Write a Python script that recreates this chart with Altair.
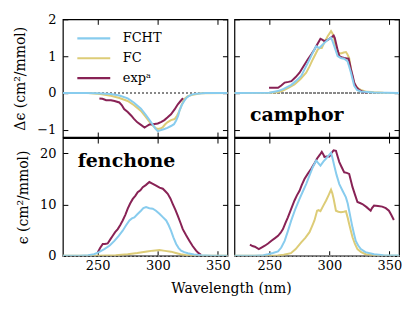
import altair as alt
import pandas as pd

# ---------------- data ----------------
SERIES = ["FCHT", "FC", "expᵃ"]
COLORS = ["#88CCEE", "#DDCC77", "#882255"]

# fenchone CD (top-left)
fcd_fcht_nm = [221, 240, 250, 261, 268, 275, 280, 286, 290, 294.5, 298, 300, 302, 305.5, 308, 311, 313.5, 315.3, 317, 318, 320, 322, 324, 326, 329, 332, 340, 358]
fcd_fcht_v = [0, -0.005, -0.01, -0.03, -0.07, -0.15, -0.26, -0.43, -0.6, -0.8, -0.97, -1.04, -1.02, -0.98, -0.95, -0.9, -0.85, -0.75, -0.62, -0.49, -0.33, -0.22, -0.13, -0.08, -0.04, -0.02, -0.005, 0]
fcd_fc_nm = [221, 242, 252, 261, 268, 275, 280, 286, 290, 294.5, 298, 300, 302, 304, 306, 308, 311, 314, 316, 318, 320, 322, 325, 328, 336, 358]
fcd_fc_v = [0, -0.005, -0.03, -0.08, -0.14, -0.22, -0.33, -0.49, -0.65, -0.85, -0.95, -0.98, -0.97, -0.94, -0.86, -0.8, -0.74, -0.71, -0.62, -0.49, -0.32, -0.17, -0.09, -0.06, -0.01, 0]
fcd_exp_nm = [251.4, 254, 257, 261, 264, 268, 270, 272, 275, 278, 280, 283, 286, 289, 291, 293, 296, 300, 303, 305.5, 308, 311, 314, 316.7, 319, 321]
fcd_exp_v = [-0.15, -0.16, -0.2, -0.2, -0.22, -0.26, -0.33, -0.44, -0.52, -0.62, -0.7, -0.8, -0.87, -0.94, -0.9, -0.86, -0.85, -0.83, -0.79, -0.74, -0.67, -0.58, -0.45, -0.31, -0.22, -0.14]

# camphor CD (top-right)
ccd_fcht_nm = [221, 250, 257.3, 262, 268.4, 272, 276.6, 280, 283.5, 286, 289, 291.7, 293.5, 295.9, 298.5, 301.4, 302.5, 304.1, 306.9, 309.5, 312.4, 315.1, 316.5, 318, 319.5, 320.7, 323, 326, 337, 358]
ccd_fcht_v = [0, 0.005, 0.05, 0.11, 0.22, 0.32, 0.46, 0.68, 0.91, 1.08, 1.27, 1.22, 1.28, 1.36, 1.44, 1.5, 1.42, 1.27, 1.0, 0.95, 0.93, 0.86, 0.72, 0.55, 0.35, 0.19, 0.08, 0.04, 0.01, 0]
ccd_fc_nm = [221, 250, 257, 261, 265.5, 271, 276, 280.7, 283.5, 286.2, 290.4, 292, 293.7, 296, 298.6, 301.4, 302.5, 303.6, 305, 306.9, 309.6, 312, 313.8, 315, 316.5, 318.5, 320, 321.2, 323.5, 326.2, 330, 337, 345, 358]
ccd_fc_v = [0, 0.003, 0.02, 0.06, 0.13, 0.23, 0.38, 0.55, 0.72, 0.91, 1.18, 1.22, 1.22, 1.38, 1.54, 1.68, 1.62, 1.54, 1.3, 1.09, 1.07, 1.1, 1.11, 1.05, 0.95, 0.55, 0.35, 0.23, 0.13, 0.08, 0.04, 0.02, 0.005, 0]
ccd_exp_nm = [249.8, 253, 257.3, 260, 262.8, 266, 268.4, 272, 275.2, 278, 282, 285, 287.6, 290, 292.6, 294, 295.9, 298, 300, 302, 303.6, 304.5, 305.5, 307, 308.3, 310, 312.4, 314, 316, 317, 318, 319.5, 320.7, 322.5, 324.8, 328, 331]
ccd_exp_v = [0.14, 0.14, 0.14, 0.2, 0.28, 0.3, 0.32, 0.43, 0.55, 0.7, 0.91, 1.05, 1.18, 1.32, 1.47, 1.45, 1.41, 1.43, 1.47, 1.52, 1.56, 1.5, 1.36, 1.15, 1.0, 0.97, 0.95, 0.94, 0.93, 0.8, 0.64, 0.45, 0.28, 0.16, 0.08, 0.03, 0.01]

# fenchone absorption (bottom-left)
fab_fcht_nm = [221, 235, 242, 247, 251, 255.5, 260, 263.9, 267.5, 270.8, 273.5, 276.4, 278.5, 280.5, 283, 286, 288, 290.3, 293, 295.8, 298.5, 301.4, 304, 307, 309, 311, 313, 315.3, 317.4, 319.4, 322, 325, 330, 336, 345, 358]
fab_fcht_v = [0, 0.02, 0.1, 0.3, 0.7, 1.3, 2.0, 2.9, 3.9, 4.9, 5.9, 6.9, 7.3, 7.5, 8.1, 8.8, 9.3, 9.5, 9.3, 9.2, 8.8, 8.2, 7.6, 6.9, 6.0, 4.9, 3.6, 2.3, 1.5, 1.0, 0.7, 0.5, 0.25, 0.1, 0.02, 0]
fab_fc_nm = [221, 250, 265, 275, 283, 291, 296, 301.4, 306, 311, 315, 319, 323, 328, 340, 358]
fab_fc_v = [0, 0.02, 0.1, 0.3, 0.55, 0.85, 1.0, 1.1, 0.95, 0.8, 0.55, 0.3, 0.15, 0.05, 0.01, 0]
fab_exp_nm = [250, 252, 254.2, 256, 258.3, 260.5, 262.5, 264.5, 266.7, 268.8, 270.8, 273, 275, 277, 279.2, 281.3, 283.3, 285.5, 287.5, 290, 293, 295.5, 298.6, 301.5, 304.2, 306.3, 308.3, 310.5, 312.5, 314.6, 316.7, 318.8, 320.8, 323.6, 326.4, 329, 331.9, 334, 336]
fab_exp_v = [0.65, 1.5, 2.3, 2.3, 2.4, 3.2, 3.9, 4.6, 5.2, 6.0, 6.9, 8.0, 9.2, 10.2, 11.1, 11.7, 12.4, 12.8, 13.4, 13.8, 14.4, 14.1, 13.7, 13.3, 13.1, 12.6, 12.1, 11.2, 10.1, 9.0, 7.8, 6.5, 5.2, 4.0, 2.9, 1.9, 1.0, 0.5, 0.2]

# camphor absorption (bottom-right)
cab_fcht_nm = [221, 238, 245, 249, 253, 257.3, 260, 262.8, 265.5, 268.3, 271.5, 275.2, 278, 280.7, 283.5, 286.2, 289, 290.8, 292.6, 295, 297.3, 299.5, 301.4, 302.5, 304.1, 306, 308.3, 311, 313.8, 315.3, 316.5, 318, 319.3, 320.7, 322, 324, 326.2, 330, 337.2, 345, 358]
cab_fcht_v = [0, 0.02, 0.12, 0.3, 0.55, 0.85, 1.6, 2.9, 4.8, 6.9, 9.0, 11.1, 12.6, 14.0, 15.7, 17.3, 18.6, 18.1, 17.6, 18.4, 19.0, 19.6, 20.1, 19.2, 17.6, 15.8, 14.0, 12.7, 11.4, 10.2, 8.8, 7.0, 5.5, 4.1, 2.9, 2.0, 1.3, 0.7, 0.3, 0.1, 0.03]
cab_fc_nm = [221, 245, 257, 262, 268, 272, 276.6, 280, 283.5, 286, 287.6, 289.8, 291, 292.6, 295, 297.3, 299.5, 301.4, 302.5, 303.6, 305.5, 307.5, 309.7, 312, 313.8, 315.2, 316.5, 318, 319.3, 321.3, 323.4, 326.5, 330.3, 341, 358]
cab_fc_v = [0, 0.01, 0.05, 0.2, 0.5, 1.3, 2.6, 3.5, 4.6, 6.0, 6.9, 8.8, 8.9, 8.7, 9.8, 10.8, 11.9, 12.9, 12.2, 11.1, 8.8, 8.6, 8.5, 8.6, 8.7, 7.5, 6.2, 4.8, 3.6, 2.3, 1.3, 0.7, 0.3, 0.05, 0]
cab_exp_nm = [233.9, 236, 238, 241.3, 243.5, 246.3, 249, 251.8, 254.5, 257.3, 259.5, 261.4, 263.5, 265.5, 268, 271, 273, 275.2, 277, 279.3, 282, 284.9, 287.5, 289.8, 292, 293.7, 295, 295.9, 298, 300, 301.8, 303.6, 305.5, 306.9, 308.3, 310.3, 312.4, 314.5, 316.5, 318, 319.3, 321.4, 323.4, 325.5, 327.5, 331, 334.4, 335.5, 337.2, 340.5, 344, 347, 349.6, 351.5, 353.7]
cab_exp_v = [2.16, 1.9, 1.76, 1.3, 1.6, 1.96, 2.4, 2.94, 3.4, 3.9, 4.5, 5.2, 6.4, 7.5, 9.0, 10.8, 11.8, 12.7, 13.8, 15.0, 16.0, 17.0, 18.0, 19.0, 19.7, 20.3, 19.8, 19.3, 19.4, 19.4, 20.1, 20.6, 20.5, 19.4, 18.3, 17.3, 16.3, 16.2, 16.0, 14.6, 13.4, 11.9, 10.5, 10.3, 10.1, 9.5, 8.8, 9.3, 9.8, 9.7, 9.6, 9.3, 8.8, 8.0, 7.0]

X_DOMAIN = [221, 358]
X_TICKS = [250, 300, 350]
CD_DOMAIN = [-1.2, 2]
CD_TICKS = [-1, 0, 1, 2]
AB_DOMAIN = [0, 23]
AB_TICKS = [0, 10, 20]

FONT = "DejaVu Serif"
LSZ = 13      # tick labels
TSZ = 14      # axis titles
W, H = 165, 118
TS = 5


def frame(fcht, fc, exp):
    rows = []
    for name, (nm, v) in zip(SERIES, [fcht, fc, exp]):
        for a, b in zip(nm, v):
            rows.append({"nm": a, "val": b, "series": name})
    return pd.DataFrame(rows)


def panel(df, ydom, yticks, xlabels, ylabels, ytitle, xtitle, label, lx, ly, legend):
    xs = alt.Scale(domain=X_DOMAIN, nice=False, zero=False)
    ys = alt.Scale(domain=ydom, nice=False, zero=False)
    cscale = alt.Scale(domain=SERIES, range=COLORS)

    bottom_kw = dict(orient="bottom", values=X_TICKS, tickSize=TS, offset=-TS, domain=False,
                     grid=False, labels=xlabels, labelPadding=4, labelFontSize=LSZ,
                     labelFont=FONT, labelFontWeight="normal", labelColor="black",
                     tickColor="black")
    if xtitle:
        bottom_kw.update(title=xtitle, titleX=W + 3.5, titleY=31, titleBaseline="top",
                         titleFont=FONT, titleFontSize=TSZ, titleFontWeight="normal",
                         titleColor="black")
    else:
        bottom_kw.update(title=None)
    left_kw = dict(orient="left", values=yticks, tickSize=TS, offset=-TS, domain=False,
                   grid=False, labels=ylabels, labelPadding=7, labelFontSize=LSZ,
                   labelFont=FONT, labelFontWeight="normal", labelColor="black",
                   tickColor="black")
    if ytitle:
        left_kw.update(title=ytitle, titleFont=FONT, titleFontSize=TSZ,
                       titleFontWeight="normal", titleColor="black", titlePadding=9)
    else:
        left_kw.update(title=None)

    if legend:
        leg = alt.Legend(orient="none", legendX=24, legendY=12, title=None,
                         symbolType="M-3,0H3", symbolSize=121, symbolStrokeWidth=2.2,
                         labelFont=FONT, labelFontSize=LSZ, labelColor="black",
                         labelFontWeight="normal",
                         labelOffset=22, rowPadding=6, padding=0)
    else:
        leg = None

    zero = alt.Chart(df).mark_rule(strokeDash=[1.5, 2.5], color="#888888", strokeWidth=1.4).encode(
        y=alt.YDatum(0, scale=ys, axis=None))

    layers = [zero]
    first = True
    for name in ["FC", "expᵃ", "FCHT"]:
        sub = df[df["series"] == name]
        enc = dict(
            x=alt.X("nm:Q", scale=xs, axis=alt.Axis(**bottom_kw) if first else None),
            y=alt.Y("val:Q", scale=ys, axis=alt.Axis(**left_kw) if first else None),
            color=alt.Color("series:N", scale=cscale, legend=leg if first else None),
        )
        layers.append(alt.Chart(sub).mark_line(strokeWidth=2, clip=True).encode(**enc))
        first = False

    mirror = alt.Chart(df).mark_line(opacity=0).encode(
        x=alt.X("nm:Q", scale=xs, axis=alt.Axis(orient="top", values=X_TICKS, tickSize=TS,
                                                offset=-TS, domain=False, grid=False,
                                                labels=False, title=None, tickColor="black")),
        y=alt.Y("val:Q", scale=ys, axis=alt.Axis(orient="right", values=yticks, tickSize=TS,
                                                 offset=-TS, domain=False, grid=False,
                                                 labels=False, title=None, tickColor="black")),
    )
    layers.append(mirror)

    if label:
        tdf = pd.DataFrame({"nm": [lx], "val": [ly], "t": [label]})
        txt = alt.Chart(tdf).mark_text(font=FONT, fontSize=19, fontWeight="bold",
                                       align="center", baseline="alphabetic",
                                       color="black").encode(
            x=alt.X("nm:Q", scale=xs, axis=None),
            y=alt.Y("val:Q", scale=ys, axis=None),
            text="t:N")
        layers.append(txt)

    return alt.layer(*layers).resolve_axis(x="independent", y="independent").properties(
        width=W, height=H)


tl = panel(frame((fcd_fcht_nm, fcd_fcht_v), (fcd_fc_nm, fcd_fc_v), (fcd_exp_nm, fcd_exp_v)),
           CD_DOMAIN, CD_TICKS, False, True, "Δϵ (cm²/mmol)", None, None, 0, 0, True)
tr = panel(frame((ccd_fcht_nm, ccd_fcht_v), (ccd_fc_nm, ccd_fc_v), (ccd_exp_nm, ccd_exp_v)),
           CD_DOMAIN, CD_TICKS, False, False, None, None, "camphor", 272.9, -0.757, False)
bl = panel(frame((fab_fcht_nm, fab_fcht_v), (fab_fc_nm, fab_fc_v), (fab_exp_nm, fab_exp_v)),
           AB_DOMAIN, AB_TICKS, True, True, "ϵ (cm²/mmol)", "Wavelength (nm)", "fenchone", 274, 17.3, False)
br = panel(frame((cab_fcht_nm, cab_fcht_v), (cab_fc_nm, cab_fc_v), (cab_exp_nm, cab_exp_v)),
           AB_DOMAIN, AB_TICKS, True, False, None, None, None, 0, 0, False)

chart = alt.concat(tl, tr, bl, br, columns=2, spacing={"row": 1, "column": 7},
                   bounds="flush").properties(
    padding={"left": 5, "top": 4, "right": 5, "bottom": 5}
).configure(font=FONT).configure_view(stroke="black", strokeWidth=1.2)

chart.save("out.html", embed_options={"renderer": "svg", "actions": False})
